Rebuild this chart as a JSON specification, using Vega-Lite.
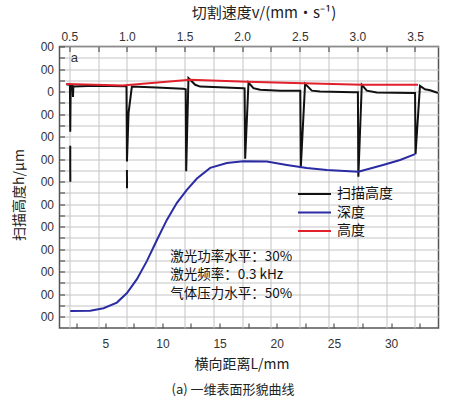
{
  "$schema": "https://vega.github.io/schema/vega-lite/v6.json",
  "width": 379,
  "height": 281.5,
  "autosize": "none",
  "padding": {"left": 59.5, "top": 46.5, "right": 30.5, "bottom": 70},
  "background": "white",
  "config": {
    "view": {"stroke": "#555", "strokeWidth": 1.5},
    "font": "Liberation Sans",
    "axis": {"domain": false, "tickColor": "#555", "tickWidth": 1.2, "tickSize": -5, "labelColor": "#333", "labelFontSize": 12, "labelOverlap": false, "titleColor": "#222", "titleFontWeight": "normal", "titleFont": "Noto Sans CJK SC", "gridColor": "#c4c4c4", "gridWidth": 1, "gridOpacity": 1}
  },
  "title": {"text": "(a) 一维表面形貌曲线", "orient": "bottom", "font": "Noto Sans CJK SC", "fontSize": 13, "fontWeight": "normal", "color": "#222", "offset": 13, "dx": -16},
  "datasets": {
    "curves": [
      {"L": 1.59, "h": 32, "series": "扫描高度", "seg": "a"},
      {"L": 1.91, "h": 30, "series": "扫描高度", "seg": "a"},
      {"L": 1.94, "h": -179, "series": "扫描高度", "seg": "a"},
      {"L": 1.98, "h": 26, "series": "扫描高度", "seg": "a"},
      {"L": 2.14, "h": 25, "series": "扫描高度", "seg": "a"},
      {"L": 2.18, "h": -24, "series": "扫描高度", "seg": "a"},
      {"L": 2.21, "h": 22, "series": "扫描高度", "seg": "a"},
      {"L": 4.13, "h": 26, "series": "扫描高度", "seg": "a"},
      {"L": 6.75, "h": 24, "series": "扫描高度", "seg": "a"},
      {"L": 6.86, "h": 22, "series": "扫描高度", "seg": "a"},
      {"L": 6.90, "h": -311, "series": "扫描高度", "seg": "a"},
      {"L": 7.04, "h": -95, "series": "扫描高度", "seg": "a"},
      {"L": 7.33, "h": 22, "series": "扫描高度", "seg": "a"},
      {"L": 9.5, "h": 18, "series": "扫描高度", "seg": "a"},
      {"L": 11.82, "h": 12, "series": "扫描高度", "seg": "a"},
      {"L": 12.04, "h": 10, "series": "扫描高度", "seg": "a"},
      {"L": 12.08, "h": -354, "series": "扫描高度", "seg": "a"},
      {"L": 12.28, "h": 60, "series": "扫描高度", "seg": "a"},
      {"L": 12.87, "h": 30, "series": "扫描高度", "seg": "a"},
      {"L": 13.30, "h": 22, "series": "扫描高度", "seg": "a"},
      {"L": 14.44, "h": 20, "series": "扫描高度", "seg": "a"},
      {"L": 17.09, "h": 15, "series": "扫描高度", "seg": "a"},
      {"L": 17.19, "h": 14, "series": "扫描高度", "seg": "a"},
      {"L": 17.24, "h": -298, "series": "扫描高度", "seg": "a"},
      {"L": 17.53, "h": 40, "series": "扫描高度", "seg": "a"},
      {"L": 17.96, "h": 15, "series": "扫描高度", "seg": "a"},
      {"L": 18.55, "h": 8, "series": "扫描高度", "seg": "a"},
      {"L": 20.30, "h": 4, "series": "扫描高度", "seg": "a"},
      {"L": 22.06, "h": 4, "series": "扫描高度", "seg": "a"},
      {"L": 22.11, "h": -333, "series": "扫描高度", "seg": "a"},
      {"L": 22.48, "h": 34, "series": "扫描高度", "seg": "a"},
      {"L": 23.07, "h": 4, "series": "扫描高度", "seg": "a"},
      {"L": 23.79, "h": 0, "series": "扫描高度", "seg": "a"},
      {"L": 26.70, "h": -3, "series": "扫描高度", "seg": "a"},
      {"L": 27.10, "h": -3, "series": "扫描高度", "seg": "a"},
      {"L": 27.14, "h": -378, "series": "扫描高度", "seg": "a"},
      {"L": 27.44, "h": 30, "series": "扫描高度", "seg": "a"},
      {"L": 27.88, "h": 4, "series": "扫描高度", "seg": "a"},
      {"L": 28.75, "h": -4, "series": "扫描高度", "seg": "a"},
      {"L": 31.95, "h": -7, "series": "扫描高度", "seg": "a"},
      {"L": 32.10, "h": -7, "series": "扫描高度", "seg": "a"},
      {"L": 32.14, "h": -278, "series": "扫描高度", "seg": "a"},
      {"L": 32.53, "h": 25, "series": "扫描高度", "seg": "a"},
      {"L": 32.97, "h": 10, "series": "扫描高度", "seg": "a"},
      {"L": 33.41, "h": 6, "series": "扫描高度", "seg": "a"},
      {"L": 33.99, "h": -4, "series": "扫描高度", "seg": "a"},
      {"L": 34.1, "h": -5, "series": "扫描高度", "seg": "a"},
      {"L": 1.94, "h": -241, "series": "扫描高度", "seg": "b"},
      {"L": 1.945, "h": -401, "series": "扫描高度", "seg": "b"},
      {"L": 6.90, "h": -348, "series": "扫描高度", "seg": "c"},
      {"L": 6.905, "h": -429, "series": "扫描高度", "seg": "c"},
      {"L": 1.94, "h": -975, "series": "深度", "seg": "d"},
      {"L": 3.69, "h": -973, "series": "深度", "seg": "d"},
      {"L": 4.85, "h": -962, "series": "深度", "seg": "d"},
      {"L": 6.02, "h": -937, "series": "深度", "seg": "d"},
      {"L": 6.90, "h": -895, "series": "深度", "seg": "d"},
      {"L": 7.77, "h": -833, "series": "深度", "seg": "d"},
      {"L": 8.65, "h": -752, "series": "深度", "seg": "d"},
      {"L": 9.52, "h": -659, "series": "深度", "seg": "d"},
      {"L": 10.39, "h": -570, "series": "深度", "seg": "d"},
      {"L": 11.27, "h": -494, "series": "深度", "seg": "d"},
      {"L": 12.14, "h": -437, "series": "深度", "seg": "d"},
      {"L": 13.02, "h": -386, "series": "深度", "seg": "d"},
      {"L": 14.18, "h": -339, "series": "深度", "seg": "d"},
      {"L": 15.64, "h": -317, "series": "深度", "seg": "d"},
      {"L": 17.06, "h": -310, "series": "深度", "seg": "d"},
      {"L": 19.13, "h": -311, "series": "深度", "seg": "d"},
      {"L": 20.88, "h": -326, "series": "深度", "seg": "d"},
      {"L": 22.63, "h": -340, "series": "深度", "seg": "d"},
      {"L": 24.38, "h": -348, "series": "深度", "seg": "d"},
      {"L": 27.14, "h": -356, "series": "深度", "seg": "d"},
      {"L": 29.30, "h": -326, "series": "深度", "seg": "d"},
      {"L": 30.79, "h": -304, "series": "深度", "seg": "d"},
      {"L": 32.10, "h": -278, "series": "深度", "seg": "d"},
      {"L": 1.59, "h": 34, "series": "高度", "seg": "e"},
      {"L": 4.13, "h": 30, "series": "高度", "seg": "e"},
      {"L": 6.49, "h": 27, "series": "高度", "seg": "e"},
      {"L": 12.43, "h": 52, "series": "高度", "seg": "e"},
      {"L": 17.41, "h": 44, "series": "高度", "seg": "e"},
      {"L": 22.31, "h": 37, "series": "高度", "seg": "e"},
      {"L": 27.46, "h": 30, "series": "高度", "seg": "e"},
      {"L": 32.36, "h": 30, "series": "高度", "seg": "e"}
    ],
    "notes": [
      {"L": 10.68, "h": -735, "t": "激光功率水平：30%"},
      {"L": 10.68, "h": -815, "t": "激光频率：0.3 kHz"},
      {"L": 10.68, "h": -899, "t": "气体压力水平：50%"}
    ],
    "panel": [{"L": 2.29, "h": 150, "t": "a"}]
  },
  "encoding": {
    "y": {"field": "h", "type": "quantitative", "scale": {"domain": [-1050, 200], "nice": false, "zero": false},
      "axis": {"values": [-1000, -950, -900, -850, -800, -750, -700, -650, -600, -550, -500, -450, -400, -350, -300, -250, -200, -150, -100, -50, 0, 50, 100, 150, 200], "labelExpr": "datum.value % 100 != 0 ? '' : (datum.value == 0 ? '0' : '00')", "labelOverlap": false, "labelFlush": false, "grid": true, "gridColor": "#c4c4c4", "gridOpacity": 1, "gridWidth": 1, "labelPadding": 11, "title": "扫描高度h/μm", "titleFontSize": 14, "titlePadding": 14, "titleY": 148}}
  },
  "layer": [
    {
      "data": {"name": "curves"},
      "mark": {"type": "line", "strokeWidth": 2},
      "encoding": {
        "x": {"field": "L", "type": "quantitative", "scale": {"domain": [1.0, 34.15], "nice": false, "zero": false},
          "axis": {"orient": "bottom", "values": [2.5, 5, 7.5, 10, 12.5, 15, 17.5, 20, 22.5, 25, 27.5, 30, 32.5], "labelExpr": "datum.value % 5 == 0 ? datum.label : ''", "labelOverlap": false, "labelFlush": false, "grid": false, "labelPadding": 15, "title": "横向距离L/mm", "titleFontSize": 14, "titlePadding": 8, "titleX": 182}},
        "color": {"field": "series", "type": "nominal",
          "scale": {"domain": ["扫描高度", "深度", "高度"], "range": ["#111111", "#2b2ba3", "#e0202a"]},
          "legend": {"title": null, "orient": "none", "legendX": 245.5, "legendY": 138, "padding": 0, "symbolType": "M-1.94,0H1.94", "symbolSize": 289, "symbolStrokeWidth": 2, "labelFont": "Noto Sans CJK SC", "labelFontSize": 14, "labelColor": "#111", "rowPadding": 1.5, "labelOffset": 13}},
        "detail": {"field": "seg"}
      }
    },
    {
      "data": {"name": "notes"},
      "mark": {"type": "text", "align": "left", "baseline": "middle", "font": "Noto Sans CJK SC", "fontSize": 13.5, "color": "#111"},
      "encoding": {
        "x": {"field": "L", "type": "quantitative", "axis": null},
        "text": {"field": "t"}
      }
    },
    {
      "data": {"name": "panel"},
      "mark": {"type": "text", "align": "center", "baseline": "middle", "font": "Liberation Sans", "fontSize": 13, "color": "#333"},
      "encoding": {
        "x": {"field": "L", "type": "quantitative",
          "axis": {"orient": "top", "values": [1.853, 4.373, 6.893, 9.413, 11.933, 14.453, 16.973, 19.493, 22.013, 24.533, 27.053, 29.573, 32.093], "labelExpr": "round((datum.value - 1.853) / 2.52) % 2 == 0 ? format(0.5 + round((datum.value - 1.853) / 2.52) * 0.25, '.1f') : ''", "labelOverlap": false, "labelFlush": false, "grid": true, "gridColor": "#c4c4c4", "gridOpacity": 1, "gridWidth": 1, "labelPadding": 8, "title": "切割速度v/(mm·s⁻¹)", "titleFontSize": 15, "titlePadding": 10, "titleX": 204}},
        "text": {"field": "t"}
      }
    }
  ],
  "resolve": {"axis": {"x": "independent"}}
}
